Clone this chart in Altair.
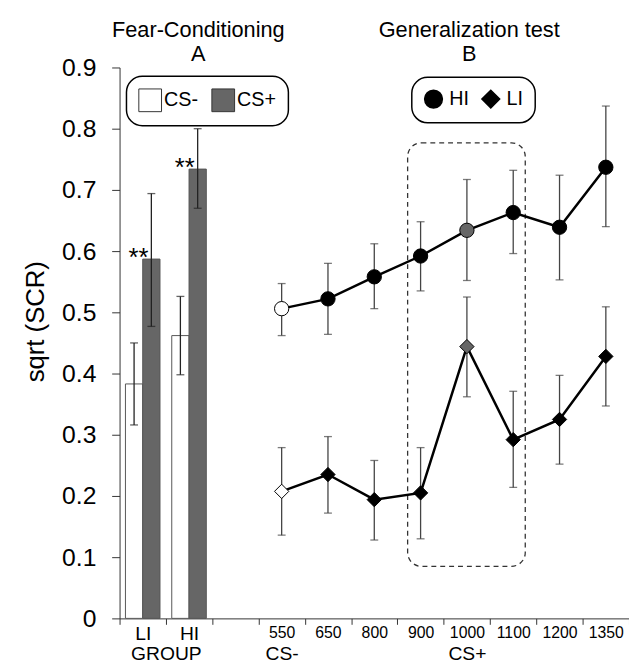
import json
import altair as alt
import pandas as pd

FONT = "Liberation Sans"

# ---------------- data ----------------
# Panel A: fear conditioning (bars)
bar_group = ["LI", "LI", "HI", "HI"]
bar_cond = ["CS-", "CS+", "CS-", "CS+"]
bar_mean = [0.383, 0.587, 0.462, 0.734]
bar_lo = [0.316, 0.477, 0.398, 0.670]
bar_hi = [0.450, 0.694, 0.526, 0.800]
bar_sig = ["", "**", "", "**"]

# Panel B: generalization test (lines)
tones = ["550", "650", "800", "900", "1000", "1100", "1200", "1350"]
cs_minus_tone = "550"
cs_plus_tone = "1000"
hi_mean = [0.506, 0.522, 0.558, 0.592, 0.634, 0.663, 0.639, 0.737]
hi_lo = [0.462, 0.464, 0.506, 0.535, 0.552, 0.596, 0.553, 0.640]
hi_hi = [0.547, 0.580, 0.612, 0.648, 0.717, 0.732, 0.724, 0.837]
li_mean = [0.2075, 0.235, 0.194, 0.205, 0.444, 0.292, 0.325, 0.428]
li_lo = [0.136, 0.172, 0.128, 0.130, 0.362, 0.214, 0.252, 0.347]
li_hi = [0.279, 0.297, 0.258, 0.279, 0.525, 0.371, 0.397, 0.509]

groups = ["HI", "LI"]
conds = ["CS-", "CS+"]
group_axis_label = "GROUP"

panel_titles = ["Fear-Conditioning", "Generalization test"]
panel_letters = ["A", "B"]
panel_centers = [1.7, 7.55]          # in slot units
box_tones = ["900", "1100"]
box_y = [0.085, 0.777]

y_ticks = [0.0, 0.1, 0.2, 0.3, 0.4, 0.5, 0.6, 0.7, 0.8, 0.9]

# ---------------- layout helpers ----------------
x_slots = ["LI", "HI", ""] + tones
slot = {name: i for i, name in enumerate(x_slots) if name}
n_slots = len(x_slots)
BW = 0.373  # bar width in slot units

bars = pd.DataFrame({"group": bar_group, "role": bar_cond, "mean": bar_mean,
                     "lo": bar_lo, "hi": bar_hi, "sig": bar_sig})
bars["center"] = [slot[g] + 0.5 for g in bars["group"]]
bars["x"] = [c - BW if r == "CS-" else c for c, r in zip(bars["center"], bars["role"])]
bars["x2"] = bars["x"] + BW
bars["xe"] = bars["x"] + BW / 2

rows = []
for g, m, lo, hi in [("HI", hi_mean, hi_lo, hi_hi), ("LI", li_mean, li_lo, li_hi)]:
    for t, mv, lv, hv in zip(tones, m, lo, hi):
        role = "CS-" if t == cs_minus_tone else ("CS+" if t == cs_plus_tone else "GS")
        rows.append({"group": g, "tone": t, "mean": mv, "lo": lv, "hi": hv,
                     "role": role, "xc": slot[t] + 0.5})
pts = pd.DataFrame(rows)

bar_caps = pd.concat([bars[["xe", "lo"]].rename(columns={"lo": "v"}),
                      bars[["xe", "hi"]].rename(columns={"hi": "v"})])
pt_caps = pd.concat([pts[["xc", "lo"]].rename(columns={"lo": "v"}),
                     pts[["xc", "hi"]].rename(columns={"hi": "v"})])

box = pd.DataFrame({"x": [slot[box_tones[0]] + 0.22], "x2": [slot[box_tones[1]] + 0.76],
                    "y": [box_y[0]], "y2": [box_y[1]]})

titles = pd.DataFrame({"x": panel_centers + panel_centers,
                       "y": [0.950, 0.950, 0.911, 0.911],
                       "t": panel_titles + panel_letters})

# ---------------- axes ----------------
tick_vals = list(range(n_slots + 1))
row1_vals = [slot[n] + 0.5 for n in x_slots if n]
row1_txt = [n for n in x_slots if n]
row2_vals = [1.0001, slot[cs_minus_tone] + 0.5001, slot[cs_plus_tone] + 0.5001]
row2_txt = [group_axis_label, "CS-", "CS+"]
all_vals = row1_vals + row2_vals
all_txt = row1_txt + row2_txt

x_axis = alt.Axis(
    values=sorted(tick_vals + all_vals),
    labelExpr="(%s)[indexof(%s, datum.value)] || ''" % (json.dumps(all_txt), json.dumps(all_vals)),
    tickOpacity={"condition": {"test": "datum.value % 1 == 0", "value": 1}, "value": 0},
    labelPadding={"condition": {"test": "indexof(%s, datum.value) >= 0" % json.dumps(row2_vals),
                                "value": 21}, "value": 0},
    labelFontSize={"condition": {"test": "datum.value < 2 || indexof(%s, datum.value) >= 0" % json.dumps(row2_vals),
                                 "value": 19.5}, "value": 16},
    tickSize=6, tickColor="#333", domainColor="#333", labelColor="black",
    grid=False, labelOverlap=False, labelFlush=False, labelBound=False,
)
y_axis = alt.Axis(
    values=y_ticks,
    labelExpr="datum.value == 0 ? '0' : format(datum.value, '.1f')",
    tickSize=8, labelPadding=16, labelFontSize=25, labelColor="black",
    tickColor="#333", domainColor="#333", grid=False,
    titleFontSize=26, titleFontWeight="normal", titleColor="black",
    titleX=-77, titleY=257, titleAngle=270, titleBaseline="alphabetic", titleAlign="center",
)
xs = alt.Scale(domain=[0, n_slots], nice=False, zero=False)
ys = alt.Scale(domain=[0, 0.9], nice=False, zero=False)


def X(f):
    return alt.X(f, type="quantitative", scale=xs, axis=x_axis, title=None)


def Y(f):
    return alt.Y(f, type="quantitative", scale=ys, axis=y_axis, title="sqrt (SCR)")


fill_scale = alt.Scale(domain=["CS-", "CS+", "GS"], range=["white", "#666666", "black"])

# ---------------- layers ----------------
box_layer = alt.Chart(box).mark_rect(
    fill="white", fillOpacity=0, stroke="#333", strokeDash=[5, 4], strokeWidth=1.3, cornerRadius=14
).encode(x=X("x"), x2="x2", y=Y("y"), y2="y2")

bar_layer = alt.Chart(bars).mark_rect(stroke="#555", strokeWidth=1).encode(
    x=X("x"), x2="x2", y=Y("mean"), y2=alt.datum(0),
    fill=alt.Fill("role:N", scale=fill_scale,
                  legend=alt.Legend(orient="none", legendX=7, legendY=9, direction="horizontal",
                                    title=None, values=conds, symbolType="square", symbolSize=529,
                                    symbolStrokeColor="#333", symbolStrokeWidth=1,
                                    labelFontSize=20, labelOffset=2, columnPadding=11, padding=12,
                                    cornerRadius=16, strokeColor="black", fillColor="white",
                                    labelColor="black")),
)

bar_err = alt.Chart(bars).mark_rule(color="#222", strokeWidth=1.3).encode(
    x=X("xe"), y=Y("lo"), y2="hi")
bar_cap = alt.Chart(bar_caps).mark_tick(color="#222", orient="horizontal", size=8, thickness=1.3).encode(
    x=X("xe"), y=Y("v"))
sig_layer = alt.Chart(bars).mark_text(fontSize=26, baseline="alphabetic", align="center", dx=-13, dy=7,
                                      color="black").encode(x=X("xe"), y=Y("mean"), text="sig:N")

pt_err = alt.Chart(pts).mark_rule(color="#444", strokeWidth=1.3).encode(
    x=X("xc"), y=Y("lo"), y2="hi")
pt_cap = alt.Chart(pt_caps).mark_tick(color="#444", orient="horizontal", size=8, thickness=1.3).encode(
    x=X("xc"), y=Y("v"))
line_layer = alt.Chart(pts).mark_line(color="black", strokeWidth=2.5).encode(
    x=X("xc"), y=Y("mean"), detail="group:N")
pt_layer = alt.Chart(pts).mark_point(filled=True, size=210, color="black", stroke="black",
                                     strokeWidth=1, opacity=1).encode(
    x=X("xc"), y=Y("mean"),
    fill=alt.Fill("role:N", scale=fill_scale, legend=None),
    shape=alt.Shape("group:N", scale=alt.Scale(domain=groups, range=["circle", "diamond"]),
                    legend=alt.Legend(orient="none", legendX=296, legendY=10, direction="horizontal",
                                      title=None, symbolSize=324, symbolFillColor="black",
                                      symbolStrokeColor="black", labelFontSize=20, labelOffset=6,
                                      columnPadding=10, padding=12, cornerRadius=16,
                                      strokeColor="black", fillColor="white", labelColor="black")),
)

title_layer = alt.Chart(titles).mark_text(fontSize=22, baseline="alphabetic", align="center",
                                          color="black").encode(x=X("x"), y=Y("y"), text="t:N")

chart = alt.layer(box_layer, bar_layer, bar_err, bar_cap, sig_layer, pt_err, pt_cap,
                  line_layer, pt_layer, title_layer).properties(
    width=516, height=558,
    padding={"left": 113, "top": 56, "right": 0, "bottom": 45},
    autosize=alt.AutoSizeParams(type="none"),
    background="white",
).configure_view(stroke=None).configure_axis(
    labelFont=FONT, titleFont=FONT
).configure_text(font=FONT).configure_legend(labelFont=FONT, strokeWidth=1.5)

chart.save("out.html", embed_options={"renderer": "svg", "actions": False})
